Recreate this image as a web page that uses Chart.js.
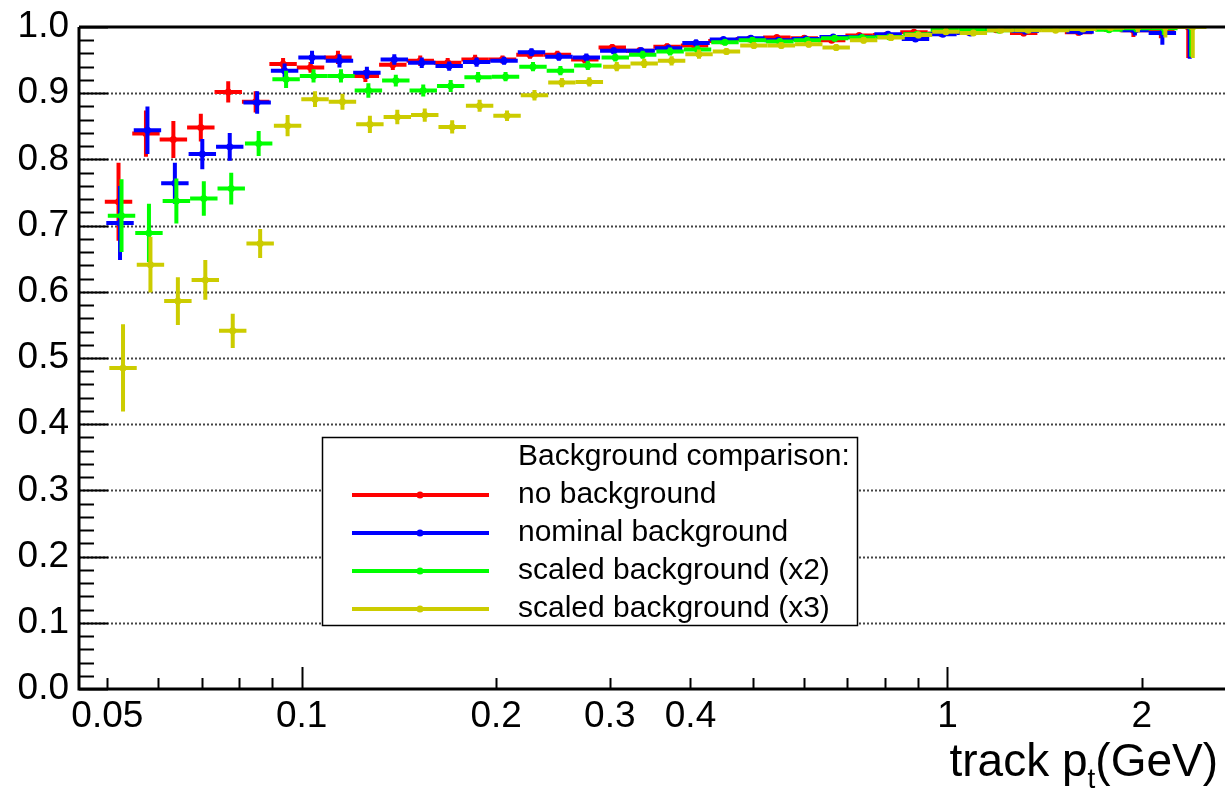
<!DOCTYPE html>
<html>
<head>
<meta charset="utf-8">
<script src="https://cdn.jsdelivr.net/npm/chart.js@4.4.1/dist/chart.umd.min.js"></script>
<style>
  html, body { margin: 0; padding: 0; background: #fff; }
</style>
</head>
<body>
<canvas id="effChart" width="1225" height="788"></canvas>
<script>
// pt bin edges (GeV), 40 log bins
const binEdges = [
  0.05, 0.05514, 0.06080, 0.06705, 0.07394, 0.08153, 0.08991, 0.09915, 0.10934, 0.12057,
  0.13296, 0.14662, 0.16169, 0.17830, 0.19662, 0.21683, 0.23911, 0.26367, 0.29077, 0.32065,
  0.35355, 0.38988, 0.42994, 0.47412, 0.52284, 0.57656, 0.63581, 0.70114, 0.77319, 0.85264,
  0.94024, 1.03680, 1.14334, 1.26082, 1.39037, 1.53324, 1.69079, 1.86453, 2.05612, 2.26740,
  2.5
];

const effNoBkg = [
  0.736, 0.839, 0.830, 0.848, 0.902, 0.887, 0.944, 0.939, 0.954, 0.926,
  0.943, 0.949, 0.946, 0.951, 0.951, 0.958, 0.958, 0.951, 0.969, 0.964,
  0.970, 0.972, 0.979, 0.982, 0.984, 0.983, 0.980, 0.987, 0.988, 0.992,
  0.990, 0.992, 0.996, 0.991, 0.998, 0.992, 0.998, 0.995, 0.995, 1.000
];
const errNoBkg = [
  0.059, 0.035, 0.028, 0.021, 0.016, 0.016, 0.009, 0.008, 0.010, 0.009,
  0.008, 0.008, 0.007, 0.007, 0.006, 0.006, 0.006, 0.006, 0.005, 0.005,
  0.005, 0.005, 0.004, 0.004, 0.004, 0.004, 0.004, 0.004, 0.004, 0.004,
  0.004, 0.004, 0.004, 0.005, 0.004, 0.005, 0.005, 0.010, 0.012, 0.047
];

const effNominal = [
  0.704, 0.844, 0.764, 0.808, 0.819, 0.886, 0.934, 0.954, 0.949, 0.931,
  0.951, 0.946, 0.941, 0.947, 0.949, 0.962, 0.955, 0.954, 0.964, 0.964,
  0.968, 0.976, 0.981, 0.983, 0.980, 0.982, 0.985, 0.985, 0.989, 0.982,
  0.989, 0.991, 0.998, 0.994, 1.000, 0.993, 1.000, 0.995, 0.991, 1.000
];
const errNominal = [
  0.056, 0.036, 0.031, 0.023, 0.021, 0.017, 0.011, 0.010, 0.010, 0.009,
  0.008, 0.008, 0.007, 0.007, 0.006, 0.006, 0.006, 0.006, 0.005, 0.005,
  0.005, 0.005, 0.004, 0.004, 0.004, 0.004, 0.004, 0.004, 0.004, 0.004,
  0.004, 0.004, 0.004, 0.005, 0.004, 0.005, 0.005, 0.008, 0.018, 0.048
];

const effScaled2 = [
  0.715, 0.689, 0.737, 0.741, 0.756, 0.824, 0.921, 0.926, 0.926, 0.904,
  0.919, 0.904, 0.911, 0.924, 0.925, 0.940, 0.934, 0.942, 0.954, 0.958,
  0.963, 0.966, 0.977, 0.980, 0.978, 0.980, 0.983, 0.984, 0.985, 0.989,
  0.996, 0.996, 0.995, 0.997, 0.999, 0.998, 0.996, 0.998, 0.998, 1.000
];
const errScaled2 = [
  0.055, 0.044, 0.034, 0.026, 0.024, 0.019, 0.013, 0.010, 0.010, 0.011,
  0.009, 0.009, 0.009, 0.008, 0.007, 0.007, 0.007, 0.007, 0.006, 0.006,
  0.006, 0.006, 0.005, 0.005, 0.005, 0.005, 0.005, 0.004, 0.004, 0.004,
  0.004, 0.004, 0.004, 0.004, 0.004, 0.004, 0.005, 0.006, 0.010, 0.045
];

const effScaled3 = [
  0.485, 0.641, 0.586, 0.618, 0.541, 0.673, 0.851, 0.891, 0.887, 0.853,
  0.864, 0.867, 0.849, 0.881, 0.866, 0.897, 0.916, 0.917, 0.940, 0.945,
  0.949, 0.959, 0.963, 0.972, 0.972, 0.974, 0.969, 0.980, 0.984, 0.988,
  0.993, 0.991, 0.995, 0.995, 0.995, 0.997, 0.999, 1.000, 1.000, 1.000
];
const errScaled3 = [
  0.066, 0.042, 0.036, 0.030, 0.026, 0.022, 0.016, 0.012, 0.012, 0.013,
  0.011, 0.010, 0.010, 0.009, 0.008, 0.008, 0.007, 0.007, 0.007, 0.007,
  0.007, 0.007, 0.005, 0.005, 0.005, 0.005, 0.005, 0.005, 0.005, 0.005,
  0.005, 0.004, 0.004, 0.004, 0.004, 0.004, 0.004, 0.008, 0.016, 0.047
];

const seriesLabels = ['no background', 'nominal background', 'scaled background (x2)', 'scaled background (x3)'];
const seriesColors = ['#ff0000', '#0000ff', '#00ff00', '#cccc00'];
const seriesShift = [-2.5, -1, 0.5, 2];   // small pixel offset, like the original

const xTickValues = [0.05, 0.06, 0.07, 0.08, 0.09, 0.1, 0.2, 0.3, 0.4, 0.5, 0.6, 0.7, 0.8, 0.9, 1, 2];
const xTickLabels = [0.05, 0.1, 0.2, 0.3, 0.4, 1, 2];
const legendTitle = 'Background comparison:';

const FONT = "'Liberation Sans', Arial, sans-serif";

const allEff = [effNoBkg, effNominal, effScaled2, effScaled3];
const allErr = [errNoBkg, errNominal, errScaled2, errScaled3];

function binCenter(i) {
  return Math.sqrt(binEdges[i] * binEdges[i + 1]);
}

const datasets = allEff.map((eff, s) => ({
  label: seriesLabels[s],
  data: eff.map((v, i) => ({ x: binCenter(i), y: v })),
  err: allErr[s],
  showLine: false,
  pointRadius: 3.5,
  pointBorderWidth: 0,
  pointBackgroundColor: seriesColors[s],
  borderColor: seriesColors[s],
  order: 3 - s
}));

// error bars (bin width + vertical error) drawn before each dataset's markers
const errorBars = {
  id: 'errorBars',
  beforeDatasetDraw(chart, args) {
    const { ctx, chartArea, scales: { x, y } } = chart;
    const s = args.index;
    const ds = chart.data.datasets[s];
    ctx.save();
    ctx.translate(seriesShift[s], 0);
    ctx.beginPath();
    ctx.rect(chartArea.left - seriesShift[s], chartArea.top, chartArea.width, chartArea.height);
    ctx.clip();
    ctx.strokeStyle = seriesColors[s];
    ctx.lineWidth = 4;
    ctx.lineCap = 'butt';
    ds.data.forEach((p, i) => {
      const xl = x.getPixelForValue(binEdges[i]);
      const xh = x.getPixelForValue(binEdges[i + 1]);
      const xc = x.getPixelForValue(p.x);
      const yc = y.getPixelForValue(p.y);
      ctx.beginPath();
      ctx.moveTo(xl, yc);
      ctx.lineTo(xh, yc);
      ctx.moveTo(xc, y.getPixelForValue(p.y + ds.err[i]));
      ctx.lineTo(xc, y.getPixelForValue(p.y - ds.err[i]));
      ctx.stroke();
    });
  },
  afterDatasetDraw(chart) {
    chart.ctx.restore();
  }
};

// ROOT-like frame: inner ticks, dotted grid, thick axes
const frame = {
  id: 'frame',
  beforeDraw(chart) {
    const ctx = chart.ctx;
    ctx.save();
    ctx.fillStyle = '#fff';
    ctx.fillRect(0, 0, chart.width, chart.height);
    ctx.restore();
  },
  beforeDatasetsDraw(chart) {
    const { ctx, chartArea: a, scales: { x, y } } = chart;
    ctx.save();
    // dotted grid
    ctx.strokeStyle = '#444';
    ctx.lineWidth = 2;
    ctx.setLineDash([2, 2]);
    for (let k = 1; k < 10; k++) {
      const py = Math.round(y.getPixelForValue(k / 10)) + 0.5;
      ctx.beginPath();
      ctx.moveTo(a.left, py);
      ctx.lineTo(a.right, py);
      ctx.stroke();
    }
    ctx.setLineDash([]);
    // y ticks
    ctx.strokeStyle = '#000';
    ctx.lineWidth = 2;
    for (let k = 0; k <= 50; k++) {
      const py = Math.round(y.getPixelForValue(k / 50)) + 0.5;
      const len = k % 5 === 0 ? 29 : 15;
      ctx.beginPath();
      ctx.moveTo(a.left, py);
      ctx.lineTo(a.left + len, py);
      ctx.stroke();
    }
    // x ticks
    xTickValues.forEach(v => {
      const px = Math.round(x.getPixelForValue(v)) + 0.5;
      const len = (v === 0.1 || v === 1) ? 22 : 11;
      ctx.beginPath();
      ctx.moveTo(px, a.bottom);
      ctx.lineTo(px, a.bottom - len);
      ctx.stroke();
    });
    ctx.restore();
  },
  afterDraw(chart) {
    const { ctx, chartArea: a } = chart;
    ctx.save();
    ctx.strokeStyle = '#000';
    ctx.lineWidth = 3;
    ctx.beginPath();
    ctx.moveTo(a.left, a.top);
    ctx.lineTo(a.right, a.top);
    ctx.moveTo(a.left, a.top);
    ctx.lineTo(a.left, a.bottom);
    ctx.lineTo(a.right, a.bottom);
    ctx.stroke();

    // legend box
    const lx = 322.5, ly = 437.5, lw = 535, lh = 188;
    ctx.fillStyle = '#fff';
    ctx.fillRect(lx, ly, lw, lh);
    ctx.lineWidth = 1.5;
    ctx.strokeRect(lx, ly, lw, lh);
    ctx.fillStyle = '#000';
    ctx.font = '30px ' + FONT;
    ctx.textBaseline = 'middle';
    ctx.textAlign = 'left';
    ctx.fillText(legendTitle, 518, 457);
    chart.data.datasets.forEach((ds, s) => {
      const ry = 495 + s * 38;
      ctx.strokeStyle = seriesColors[s];
      ctx.lineWidth = 4;
      ctx.beginPath();
      ctx.moveTo(352, ry);
      ctx.lineTo(489, ry);
      ctx.stroke();
      ctx.fillStyle = seriesColors[s];
      ctx.beginPath();
      ctx.arc(420, ry, 3.5, 0, Math.PI * 2);
      ctx.fill();
      ctx.fillStyle = '#000';
      ctx.fillText(ds.label, 518, ry);
    });

    // x axis title with subscript
    ctx.textBaseline = 'alphabetic';
    const big = '46px ' + FONT, small = '28px ' + FONT;
    ctx.font = big;
    const w1 = ctx.measureText('track p').width;
    const w3 = ctx.measureText('(GeV)').width;
    ctx.font = small;
    const w2 = ctx.measureText('t').width;
    let tx = 1218 - (w1 + w2 + w3);
    ctx.font = big;
    ctx.fillText('track p', tx, 776);
    tx += w1;
    ctx.font = small;
    ctx.fillText('t', tx, 788);
    tx += w2;
    ctx.font = big;
    ctx.fillText('(GeV)', tx, 776);
    ctx.restore();
  }
};

new Chart(document.getElementById('effChart'), {
  type: 'scatter',
  data: { datasets },
  options: {
    responsive: false,
    animation: false,
    events: [],
    layout: { autoPadding: false, padding: { top: 27, right: 0, left: 0, bottom: 0 } },
    plugins: { legend: { display: false }, tooltip: { enabled: false } },
    scales: {
      x: {
        type: 'logarithmic',
        min: 0.0452,
        max: 2.69,
        afterBuildTicks: scale => { scale.ticks = xTickValues.map(v => ({ value: v })); },
        afterFit: scale => {
          scale.height = 99;
          scale.paddingLeft = 0;
          scale.paddingRight = 0;
        },
        grid: { display: false, drawTicks: false },
        border: { display: false },
        ticks: {
          autoSkip: false,
          maxRotation: 0,
          padding: 6,
          color: '#000',
          font: { family: FONT, size: 37 },
          callback: v => xTickLabels.includes(v) ? String(v) : ''
        }
      },
      y: {
        min: 0,
        max: 1,
        afterFit: scale => {
          scale.width = 79;
          scale.paddingTop = 27;
          scale.paddingBottom = 0;
        },
        grid: { display: false, drawTicks: false },
        border: { display: false },
        ticks: {
          stepSize: 0.1,
          padding: 10,
          color: '#000',
          font: { family: FONT, size: 37 },
          callback: v => v.toFixed(1)
        }
      }
    }
  },
  plugins: [frame, errorBars]
});
</script>
</body>
</html>
